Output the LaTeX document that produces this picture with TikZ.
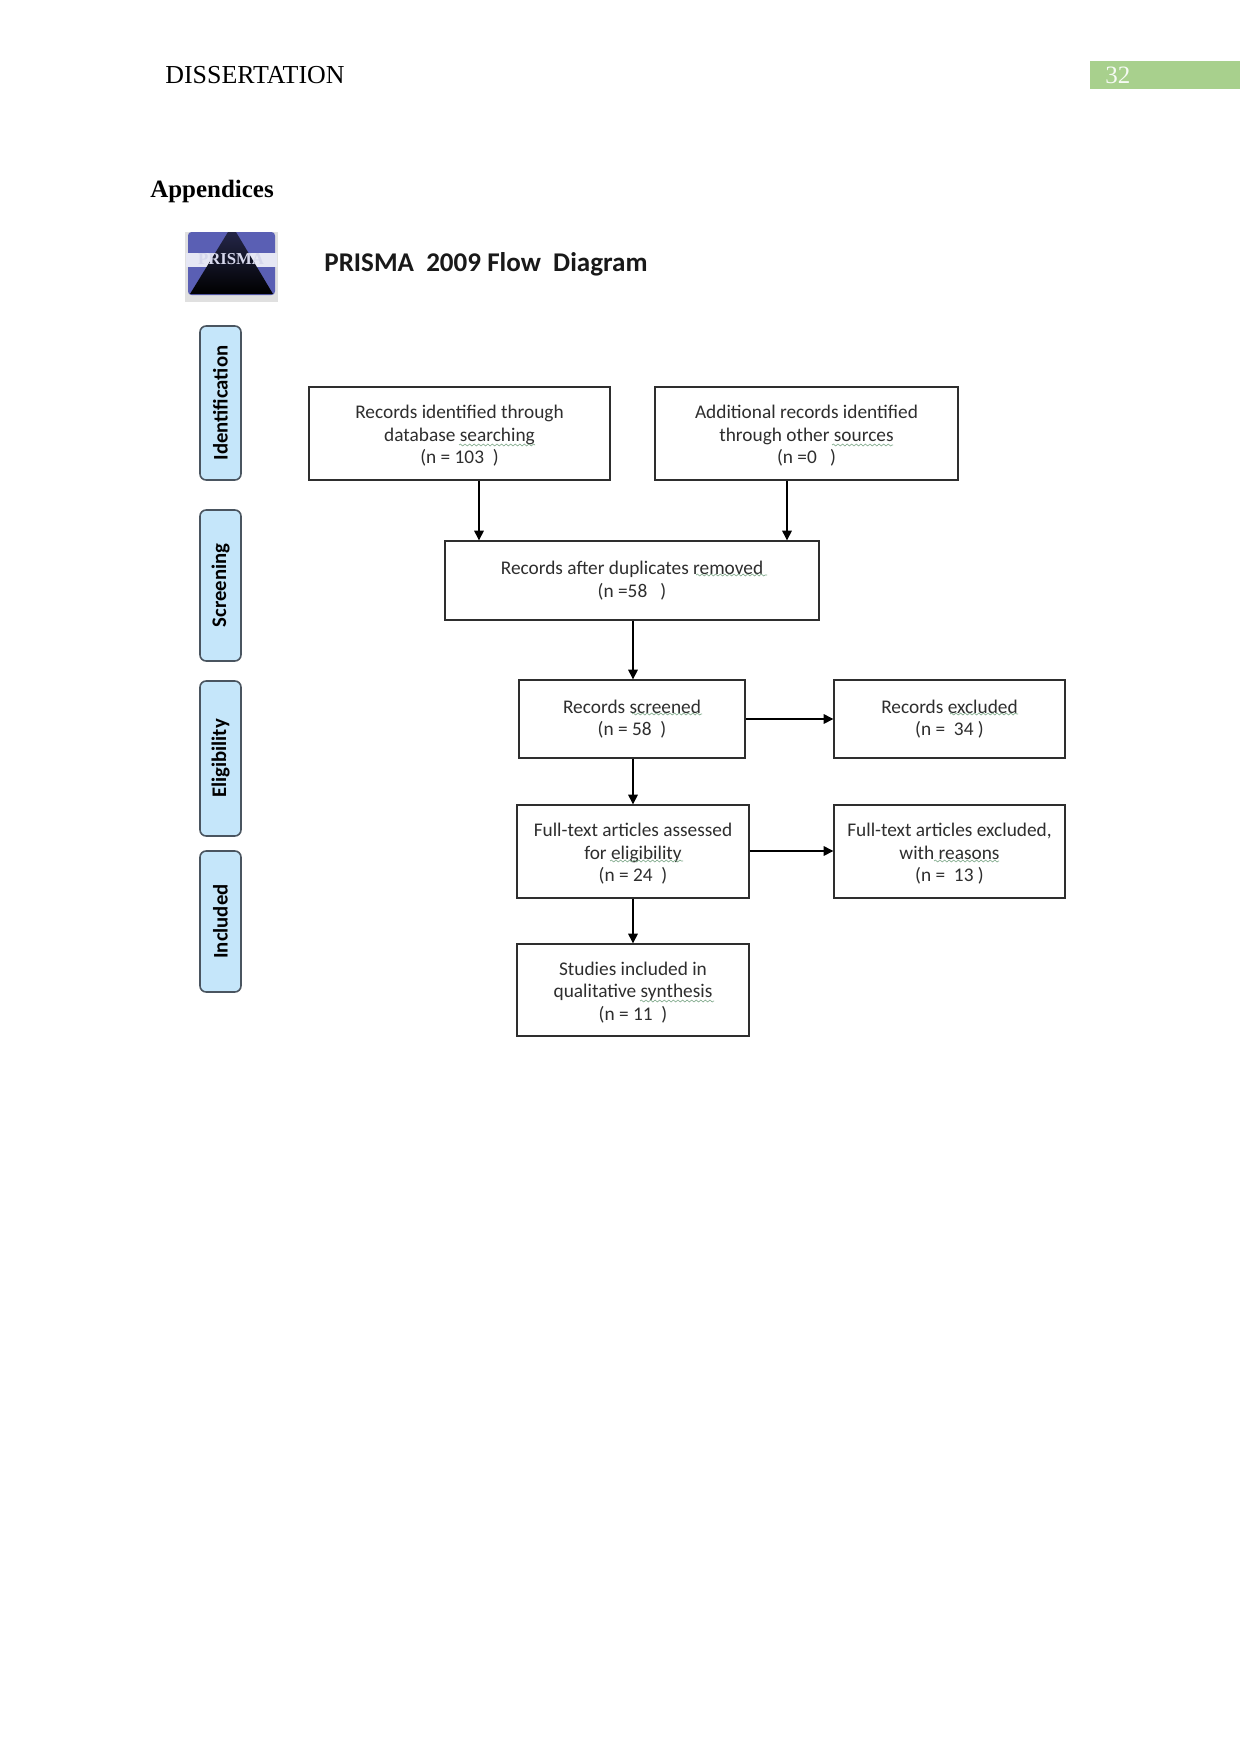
\documentclass[tikz,border=0pt]{standalone}
\usepackage{fontspec}
\setmainfont{Liberation Serif}
\newfontfamily\flowfont{Carlito}
\usetikzlibrary{arrows.meta,decorations.pathmorphing}
\definecolor{flowink}{HTML}{2E2E2E}
\definecolor{sideblue}{HTML}{C5E6FA}
\definecolor{sideedge}{HTML}{4A5560}
\definecolor{bargreen}{HTML}{A8D08D}
\definecolor{squiggle}{HTML}{7FA98A}
\definecolor{logoblue}{HTML}{5A5FB4}
\tikzset{
  x=0.02cm,y=-0.02cm,
  flowbox/.style={draw=flowink,line width=0.75pt,inner sep=0pt,align=center,
    font=\flowfont\fontsize{11}{12.8}\selectfont,text=flowink},
  sidebox/.style={draw=sideedge,line width=0.9pt,fill=sideblue,rounded corners=3.5pt,
    inner sep=0pt,rotate=90,font=\flowfont\bfseries\fontsize{11.8}{13}\selectfont,text=black},
  flowarrow/.style={draw=black,line width=0.6pt,-{Triangle[length=5.5pt,width=5.5pt]}},
  spell/.style={draw=squiggle,line width=0.35pt,decorate,
    decoration={snake,amplitude=0.55pt,segment length=2.6pt}},
  pagetext/.style={inner sep=0pt,anchor=west},
}
% box given by its corners in pixel units
\newcommand{\flowbox}[6]{%
  \pgfmathsetlengthmacro{\bw}{(#4-#2)*0.02cm}%
  \pgfmathsetlengthmacro{\bh}{(#5-#3)*0.02cm}%
  \node[flowbox,minimum width=\bw,minimum height=\bh] (#1) at ({(#2+#4)/2},{(#3+#5)/2}) {#6};}
\newcommand{\sidebox}[5]{%
  \pgfmathsetlengthmacro{\bw}{(#4-#3)*0.02cm}%
  \pgfmathsetlengthmacro{\bh}{41*0.02cm}%
  \node[sidebox,minimum width=\bw,minimum height=\bh] (#1) at (220.5,{(#3+#4)/2}) {#5};}
\newcommand{\spellmark}[3]{\draw[spell] (#1,#3) -- (#2,#3);}
% taller first line: sets three-line text a little lower in its box
\newcommand{\lowerstrut}{\rule{0pt}{10.5pt}}
\begin{document}
\begin{tikzpicture}
\useasboundingbox (0,0) rectangle (1241,1754);
\fill[white] (0,0) rectangle (1241,1754);

% running head
\node[pagetext,font=\fontsize{14.75}{16}\selectfont] (head) at (165,75) {DISSERTATION};
\fill[bargreen] (1090,61) rectangle (1240,89);
\node[pagetext,font=\fontsize{14.2}{16}\selectfont,text=white!90!bargreen] (pagenum) at (1105,75) {32};
\node[pagetext,font=\bfseries\fontsize{14.2}{16}\selectfont] (appendices) at (150,192) {Appendices};

% logo
\fill[black!12] (185,232) rectangle (278,302);
\fill[logoblue,rounded corners=2pt] (188,232) rectangle (275,295);
\fill[white!85!logoblue] (186,253) rectangle (277,267);
\shade[top color=logoblue!40!black,bottom color=black] (228,232) -- (236,232) -- (273,294) -- (190,294) -- cycle;
\node[inner sep=0pt,font=\bfseries\fontsize{9.5}{10}\selectfont,text=white!75!logoblue] (logotext) at (231,259) {PRISMA};
\node[pagetext,font=\flowfont\bfseries\fontsize{15.4}{17}\selectfont,text=black!90] (title) at (324,264) {PRISMA~ 2009 Flow~ Diagram};

% phase labels
\sidebox{identification}{0}{326}{480}{Identification}
\sidebox{screening}{0}{510}{661}{Screening}
\sidebox{eligibility}{0}{681}{836}{Eligibility}
\sidebox{included}{0}{851}{992}{Included}

% flow boxes
\flowbox{database}{309}{387}{610}{480}{\lowerstrut Records identified through\\database searching\\(n = 103~ )}
\flowbox{other}{655}{387}{958}{480}{\lowerstrut Additional records identified\\through other sources\\(n =0~~ )}
\flowbox{dedup}{445}{541}{819}{620}{Records after duplicates removed\\(n =58~~ )}
\flowbox{screened}{519}{680}{745}{758}{Records screened\\(n = 58~ )}
\flowbox{excluded}{834}{680}{1065}{758}{Records excluded\\(n =~ 34 )}
\flowbox{fulltext}{517}{805}{749}{898}{\lowerstrut Full-text articles assessed\\for eligibility\\(n = 24~ )}
\flowbox{ftexcluded}{834}{805}{1065}{898}{\lowerstrut Full-text articles excluded,\\with reasons\\(n =~ 13 )}
\flowbox{studies}{517}{944}{749}{1036}{\lowerstrut Studies included in\\qualitative synthesis\\(n = 11~ )}

% connectors
\coordinate (dbdrop) at (479,541);
\coordinate (otherdrop) at (787,541);
\coordinate (spine) at (633,700);
\draw[flowarrow] (database.south -| dbdrop) -- (dedup.north -| dbdrop);
\draw[flowarrow] (other.south -| otherdrop) -- (dedup.north -| otherdrop);
\draw[flowarrow] (dedup.south -| spine) -- (screened.north -| spine);
\draw[flowarrow] (screened.south -| spine) -- (fulltext.north -| spine);
\draw[flowarrow] (fulltext.south -| spine) -- (studies.north -| spine);
\coordinate (excl) at (800,719);
\coordinate (ftexcl) at (800,851);
\draw[flowarrow] (screened.east |- excl) -- (excluded.west |- excl);
\draw[flowarrow] (fulltext.east |- ftexcl) -- (ftexcluded.west |- ftexcl);

% spelling marks under the flagged words
\spellmark{459}{535}{445}
\spellmark{832}{893}{445}
\spellmark{696}{767}{575}
\spellmark{632}{702}{714}
\spellmark{950}{1018}{714}
\spellmark{610}{683}{861}
\spellmark{934}{999}{861}
\spellmark{640}{714}{1001}
\end{tikzpicture}
\end{document}
